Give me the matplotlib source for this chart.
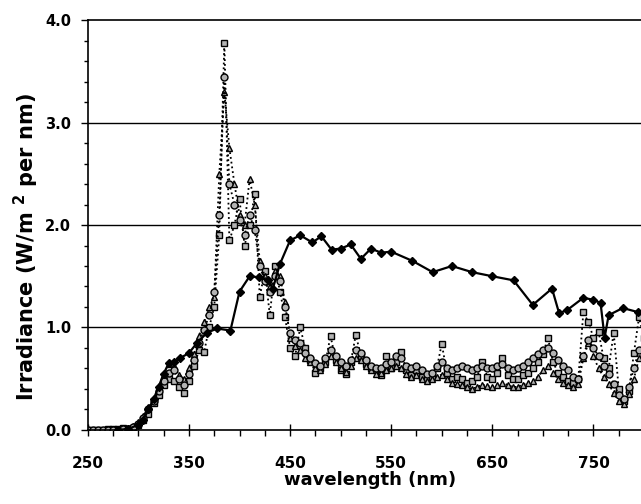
import numpy as np
import matplotlib
matplotlib.use('Agg')
import matplotlib.pyplot as plt
from matplotlib.ticker import MultipleLocator, FormatStrFormatter

plt.rcParams['font.family'] = ['DejaVu Sans']
plt.rcParams['font.weight'] = 'bold'
plt.rcParams['mathtext.fontset'] = 'dejavusans'

# lamp spectra, sampled every 5 nm from 250 to 800 nm
lamp_wl = np.arange(250, 805, 5)

lamp_circle = [
    0, 0, 0, 0, 0, 0, 0, 0.01,
    0.01, 0.03, 0.06, 0.12, 0.20, 0.28, 0.38, 0.48, 0.56, 0.58, 0.50, 0.44, 0.55, 0.68, 0.85, 0.98, 1.12,
    1.35, 2.10, 3.45, 2.40, 2.20, 2.05, 1.90, 2.10, 1.95, 1.60, 1.45, 1.35, 1.50, 1.45, 1.20, 0.95,
    0.88, 0.85, 0.75, 0.70, 0.65, 0.62, 0.70, 0.78, 0.72, 0.66,
    0.62, 0.68, 0.78, 0.75, 0.68, 0.62, 0.60, 0.60, 0.64, 0.66,
    0.72, 0.70, 0.62, 0.60, 0.62, 0.58, 0.55, 0.56, 0.62, 0.66,
    0.60, 0.58, 0.60, 0.62, 0.60, 0.58, 0.60, 0.62, 0.60, 0.60,
    0.62, 0.64, 0.60, 0.58, 0.60, 0.62, 0.66, 0.70, 0.74, 0.78,
    0.80, 0.75, 0.68, 0.62, 0.58, 0.52, 0.50, 0.72, 0.88, 0.80,
    0.72, 0.62, 0.55, 0.45, 0.34, 0.30, 0.42, 0.60, 0.78, 0.72,
]

lamp_triangle = [
    0, 0, 0, 0, 0, 0, 0.01, 0.01,
    0.02, 0.04, 0.08, 0.14, 0.22, 0.30, 0.42, 0.54, 0.64, 0.62, 0.54, 0.50, 0.60, 0.74, 0.92, 1.05, 1.20,
    1.30, 2.50, 3.30, 2.75, 2.40, 2.10, 2.00, 2.45, 2.20, 1.65, 1.50, 1.40, 1.55, 1.50, 1.25, 0.90,
    0.82, 0.78, 0.70, 0.66, 0.60, 0.58, 0.64, 0.72, 0.66, 0.60,
    0.57, 0.62, 0.70, 0.68, 0.62, 0.58, 0.55, 0.56, 0.58, 0.60,
    0.62, 0.60, 0.55, 0.52, 0.54, 0.50, 0.48, 0.50, 0.52, 0.54,
    0.50, 0.46, 0.45, 0.44, 0.42, 0.40, 0.42, 0.44, 0.43, 0.42,
    0.44, 0.46, 0.44, 0.42, 0.42, 0.44, 0.46, 0.48, 0.52, 0.58,
    0.62, 0.56, 0.50, 0.46, 0.44, 0.42, 0.45, 0.70, 0.85, 0.72,
    0.60, 0.52, 0.45, 0.36, 0.28, 0.25, 0.35, 0.50, 0.70, 0.66,
]

lamp_square = [
    0, 0, 0, 0, 0.01, 0.01, 0.01, 0.02,
    0.01, 0.02, 0.05, 0.10, 0.16, 0.26, 0.34, 0.44, 0.50, 0.48, 0.42, 0.36, 0.48, 0.62, 0.78, 0.76, 1.00,
    1.20, 1.90, 3.78, 1.85, 2.00, 2.25, 1.80, 2.00, 2.30, 1.30, 1.55, 1.12, 1.60, 1.35, 1.10, 0.80,
    0.72, 1.00, 0.80, 0.68, 0.56, 0.60, 0.66, 0.92, 0.68, 0.58,
    0.55, 0.66, 0.93, 0.72, 0.64, 0.60, 0.58, 0.54, 0.72, 0.60,
    0.66, 0.76, 0.58, 0.54, 0.58, 0.52, 0.50, 0.52, 0.60, 0.84,
    0.56, 0.50, 0.52, 0.50, 0.46, 0.48, 0.52, 0.66, 0.52, 0.50,
    0.56, 0.70, 0.54, 0.50, 0.50, 0.54, 0.56, 0.60, 0.66, 0.74,
    0.90, 0.66, 0.56, 0.52, 0.48, 0.46, 0.50, 1.15, 1.05, 0.90,
    0.96, 0.70, 0.60, 0.95, 0.40, 0.28, 0.38, 0.75, 1.10, 0.90,
]

# sunlight curve (solid line, diamonds)
sun_wl = [280, 290, 300, 305, 310, 315, 320, 325, 330, 335, 341, 350, 358, 368, 378, 391,
          400, 410, 419, 428, 433, 440, 450, 460, 472, 481, 491, 500, 510, 520, 530, 540,
          550, 571, 591, 610, 630, 650, 671, 690, 709, 716, 724, 740, 750, 757, 761, 765,
          779, 794]
sun_irr = [0.0, 0.01, 0.05, 0.10, 0.20, 0.30, 0.42, 0.55, 0.65, 0.66, 0.70, 0.75, 0.85, 0.95, 0.99, 0.97,
           1.35, 1.50, 1.49, 1.46, 1.38, 1.62, 1.85, 1.90, 1.83, 1.89, 1.76, 1.77, 1.81, 1.67, 1.77, 1.73,
           1.74, 1.65, 1.54, 1.60, 1.54, 1.50, 1.46, 1.22, 1.38, 1.14, 1.17, 1.29, 1.27, 1.24, 0.90, 1.12,
           1.19, 1.15]

fig = plt.figure(figsize=(6.41, 5.04), dpi=100)
ax = fig.add_axes([0.137, 0.147, 0.863, 0.813])

for yv in [1.0, 2.0, 3.0]:
    ax.axhline(yv, color='black', linewidth=1.0, zorder=1)

lamp_style = dict(color='black', linestyle=':', linewidth=1.3, markerfacecolor='0.7',
                  markeredgecolor='black', markeredgewidth=1.0, zorder=2)
ax.plot(lamp_wl, lamp_square, marker='s', markersize=5, **lamp_style)
ax.plot(lamp_wl, lamp_triangle, marker='^', markersize=5, **lamp_style)
ax.plot(lamp_wl, lamp_circle, marker='o', markersize=5, **lamp_style)

ax.plot(sun_wl, sun_irr, color='black', linewidth=1.6, marker='D', markersize=4,
        markerfacecolor='black', zorder=3)

ax.set_xlim(250, 797)
ax.set_ylim(0, 4.0)
ax.set_xticks([250, 350, 450, 550, 650, 750])
ax.xaxis.set_minor_locator(MultipleLocator(25))
ax.set_yticks([0, 1, 2, 3, 4])
ax.yaxis.set_minor_locator(MultipleLocator(0.2))
ax.yaxis.set_major_formatter(FormatStrFormatter('%.1f'))

ax.tick_params(axis='x', which='major', direction='inout', length=8, width=1, pad=15, labelsize=11)
ax.tick_params(axis='x', which='minor', direction='out', length=4, width=1)
ax.tick_params(axis='y', which='major', direction='out', length=5, width=1, pad=7, labelsize=10.5)
ax.tick_params(axis='y', which='minor', direction='out', length=3, width=1)

ax.spines['right'].set_visible(False)
for s in ['left', 'bottom', 'top']:
    ax.spines[s].set_linewidth(1.2)

fig.text(0.578, 0.048, 'wavelength (nm)', ha='center', va='center', fontsize=13, fontweight='bold')
fig.text(0.041, 0.509, r'Irradiance (W/m $^{\mathbf{2}}$ per nm)', ha='center', va='center',
         rotation=90, fontsize=15, fontweight='bold')

fig.savefig('out.png', dpi=100)
